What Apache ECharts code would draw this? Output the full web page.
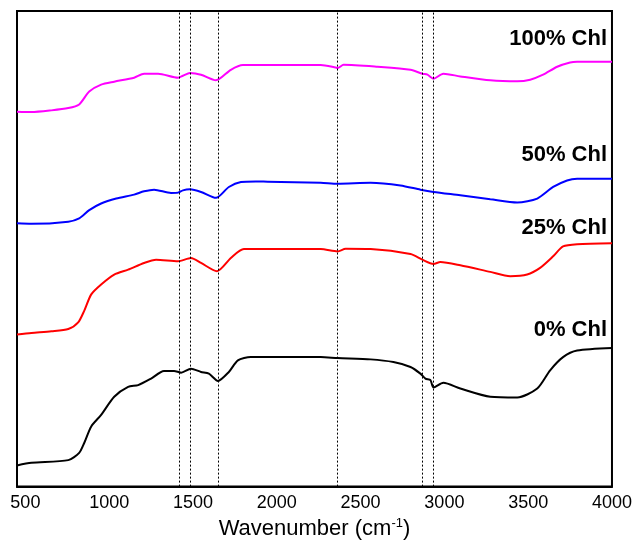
<!DOCTYPE html>
<html>
<head>
<meta charset="utf-8">
<script src="https://cdn.jsdelivr.net/npm/echarts@6/dist/echarts.min.js"></script>
<style>html,body{margin:0;padding:0;background:#fff}#c{width:635px;height:545px}</style>
</head>
<body>
<div id="c"></div>
<script>
// x tick labels
var xTicks = [500, 1000, 1500, 2000, 2500, 3000, 3500, 4000];
// dashed reference lines (cm-1)
var refLines = [1420, 1482, 1650, 2363, 2869, 2933];
// series names
var names = ['100% Chl', '50% Chl', '25% Chl', '0% Chl'];
var colors = ['#FF00FF', '#0000FF', '#FF0000', '#000000'];

// 100% Chl
var wn100 = [450,536,655,756,821,881,952,1030,1149,1208,1292,1411,1440,1482,1548,1637,1726,1798,2262,2351,2363,2399,2601,2798,2869,2899,2935,2994,3095,3274,3435,3512,3589,3673,3750,3792,4000];
var ab100 = [378.4,378,379.7,382,385.7,398.7,405.7,408.7,412.7,416.7,416.7,412.7,414.7,417.4,415.7,410,420.7,425.4,425.4,423,422.4,425.7,423.7,420.7,416.7,415.7,411.7,416.7,414,410,409,410.7,415.7,423.7,428,428.7,428.7];
// 50% Chl
var wn50 = [450,536,756,821,881,952,1042,1149,1208,1268,1369,1411,1440,1482,1548,1637,1714,1786,1875,1946,2262,2363,2560,2738,2857,2935,3095,3274,3435,3554,3649,3732,3792,4000];
var ab50 = [265.7,265.2,267.4,270.7,279,285.7,290.7,294.7,298,299.7,296.4,296.7,299,300,297.4,291.4,302.4,307.4,308,307.7,306.7,305.7,306.7,304,299.7,297.4,294,290,286.7,290.7,302.4,309,310.7,310.7];
// 25% Chl
var wn25 = [450,536,655,756,815,851,893,952,1030,1113,1208,1280,1411,1488,1548,1643,1726,1804,2262,2363,2411,2560,2798,2869,2935,2976,3095,3274,3393,3494,3571,3649,3708,3792,4000];
var ab25 = [153.4,155,156.7,159,165.7,177.4,194,204,214,219,225.7,229,227.4,230.7,225.7,217.4,230.7,239.7,239.7,237.4,240,239.7,234.7,229,224.7,226.7,223.4,216.7,212.4,214,220.7,232.4,242.4,244.7,245.7];
// 0% Chl
var wn0 = [450,536,756,821,851,893,952,1030,1113,1173,1250,1327,1387,1429,1488,1548,1595,1649,1714,1768,1845,2262,2363,2560,2696,2798,2857,2887,2917,2935,2994,3095,3274,3435,3554,3631,3708,3792,4000];
var ab0 = [21.4,24,26.7,34,44,60.7,72.4,90.7,100.7,102.4,109,116.7,116.7,115,119,115.7,114,106.7,115.7,127.4,130.7,130.7,129.7,128.4,125.7,120.7,114,109,107.4,100,104.7,99,90.7,90,99,117.4,130.7,137.4,140];

var wns = [wn100, wn50, wn25, wn0];
var abs = [ab100, ab50, ab25, ab0];

var FONT = '"Liberation Sans", Arial, sans-serif';
var chart = echarts.init(document.getElementById('c'), null, {renderer: 'canvas'});

var series = names.map(function (n, i) {
  return {
    name: n, type: 'line', showSymbol: false, symbol: 'none',
    smooth: 0.25,
    data: wns[i].map(function (w, j) { return [w, abs[i][j]]; }),
    lineStyle: {color: colors[i], width: 2}, itemStyle: {color: colors[i]},
    silent: true, animation: false, z: 3
  };
});
series.push({
  type: 'line', data: [], silent: true, animation: false,
  markLine: {
    symbol: 'none', silent: true, animation: false,
    label: {show: false},
    lineStyle: {color: '#000', type: [2, 2], width: 1},
    data: refLines.map(function (v) { return {xAxis: v}; })
  }
});

var option = {
  animation: false,
  backgroundColor: '#fff',
  grid: {left: 17, right: 21, top: 11, bottom: 54, show: true, borderColor: '#000', borderWidth: 2, containLabel: false},
  xAxis: {
    type: 'value', min: 450, max: 4000,
    axisLine: {show: true, lineStyle: {color: '#000', width: 2}},
    axisTick: {show: false},
    splitLine: {show: false},
    axisLabel: {
      customValues: xTicks, color: '#000', fontSize: 18, fontFamily: FONT, margin: 7,
      showMinLabel: true, showMaxLabel: true,
      formatter: function (v) { return String(v); }
    },
    name: '{a|Wavenumber (cm}{s|-1}{a|)}',
    nameLocation: 'middle', nameGap: 29,
    nameTextStyle: {
      rich: {
        a: {fontSize: 22, fontFamily: FONT, color: '#000'},
        s: {fontSize: 13, fontFamily: FONT, color: '#000', padding: [0, 0, 12, 0]}
      }
    }
  },
  yAxis: {
    type: 'value', min: 0, max: 480,
    axisLine: {show: true, lineStyle: {color: '#000', width: 2}},
    axisTick: {show: false}, axisLabel: {show: false}, splitLine: {show: false}
  },
  series: series,
  graphic: [
    {type: 'text', right: 28, top: 28, style: {text: '100% Chl', font: 'bold 22px ' + FONT, fill: '#000'}},
    {type: 'text', right: 28, top: 144, style: {text: '50% Chl', font: 'bold 22px ' + FONT, fill: '#000'}},
    {type: 'text', right: 28, top: 217, style: {text: '25% Chl', font: 'bold 22px ' + FONT, fill: '#000'}},
    {type: 'text', right: 28, top: 319, style: {text: '0% Chl', font: 'bold 22px ' + FONT, fill: '#000'}}
  ]
};
chart.setOption(option);
</script>
</body>
</html>
